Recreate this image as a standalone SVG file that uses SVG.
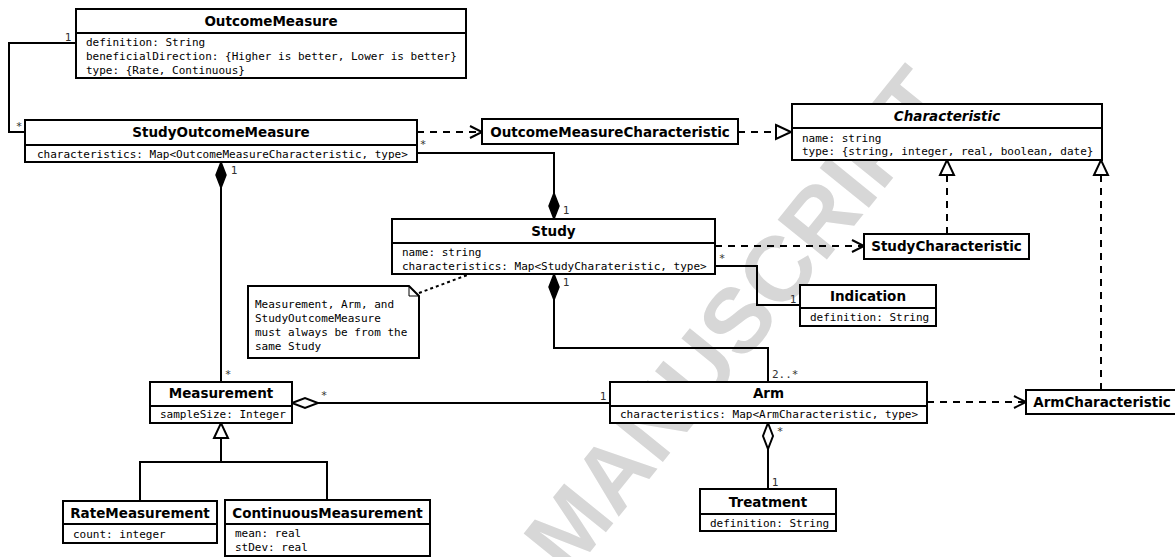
<svg xmlns="http://www.w3.org/2000/svg" width="1175" height="557" viewBox="0 0 1175 557">
<style>
.box{fill:#fff;stroke:#000;stroke-width:2}
.dv{stroke:#000;stroke-width:2}
.ln{fill:none;stroke:#000;stroke-width:2}
.dash{fill:none;stroke:#000;stroke-width:2;stroke-dasharray:7 6}
.dot{fill:none;stroke:#000;stroke-width:2;stroke-dasharray:3 3}
.t{font-family:"DejaVu Sans","Liberation Sans",sans-serif;font-weight:bold;font-size:13.5px;text-anchor:middle;fill:#000}
.a{font-family:"DejaVu Sans Mono","Liberation Mono",monospace;font-size:11px;fill:#000}
.m{font-family:"DejaVu Sans Mono","Liberation Mono",monospace;font-size:11px;fill:#333}
.wm{font-family:"Liberation Sans","DejaVu Sans",sans-serif;font-weight:bold;font-size:92px;fill:#d7d7d7}
</style>
<defs>
<marker id="open" markerUnits="userSpaceOnUse" markerWidth="14" markerHeight="14" refX="12" refY="6" orient="auto" overflow="visible">
<path d="M0,0 L12,6 L0,12" fill="none" stroke="#000" stroke-width="2"/>
</marker>
<marker id="tri" markerUnits="userSpaceOnUse" markerWidth="16" markerHeight="16" refX="15" refY="7" orient="auto" overflow="visible">
<path d="M0,0 L15,7 L0,14 Z" fill="#fff" stroke="#000" stroke-width="2"/>
</marker>
<marker id="dfill" markerUnits="userSpaceOnUse" markerWidth="28" markerHeight="12" refX="0" refY="5" orient="auto" overflow="visible">
<path d="M0,5 L13,0 L26,5 L13,10 Z" fill="#000" stroke="#000" stroke-width="1.5"/>
</marker>
<marker id="dhol" markerUnits="userSpaceOnUse" markerWidth="28" markerHeight="12" refX="0" refY="5" orient="auto" overflow="visible">
<path d="M0,5 L13,0 L26,5 L13,10 Z" fill="#fff" stroke="#000" stroke-width="2"/>
</marker>
</defs>
<rect width="1175" height="557" fill="#fff"/>
<text class="wm" transform="translate(569,578) rotate(-51)">MANUSCRIPT</text>

<g id="connectors">
<path class="ln" d="M76,43 H9 V132 H25"/>
<path class="dash" d="M417,132 H482" marker-end="url(#open)"/>
<path class="dash" d="M738,132 H791" marker-end="url(#tri)"/>
<path class="ln" d="M554,219 V153 H417" marker-start="url(#dfill)"/>
<path class="dash" d="M715,246 H864" marker-end="url(#open)"/>
<path class="ln" d="M715,266 H757 V305 H800"/>
<path class="ln" d="M554,274 V348 H768 V382" marker-start="url(#dfill)"/>
<path class="ln" d="M292,403 H610" marker-start="url(#dhol)"/>
<path class="ln" d="M221,162 V382" marker-start="url(#dfill)"/>
<path class="ln" d="M140,501 V462 H327 V500"/>
<path class="ln" d="M221,462 V423" marker-end="url(#tri)"/>
<path class="ln" d="M768,423 V489" marker-start="url(#dhol)"/>
<path class="dash" d="M927,402 H1026" marker-end="url(#open)"/>
<path class="dash" d="M947,234 V160" marker-end="url(#tri)"/>
<path class="dash" d="M1101,390 V160" marker-end="url(#tri)"/>
<path class="dot" d="M419,293 L470,274"/>
<text class="m" x="68" y="41" text-anchor="middle">1</text>
<text class="m" x="19" y="130" text-anchor="middle">*</text>
<text class="m" x="423" y="148" text-anchor="middle">*</text>
<text class="m" x="566" y="214" text-anchor="middle">1</text>
<text class="m" x="722" y="262" text-anchor="middle">*</text>
<text class="m" x="793" y="303" text-anchor="middle">1</text>
<text class="m" x="566" y="286" text-anchor="middle">1</text>
<text class="m" x="772" y="378">2..*</text>
<text class="m" x="603" y="400" text-anchor="middle">1</text>
<text class="m" x="324" y="399" text-anchor="middle">*</text>
<text class="m" x="234" y="174" text-anchor="middle">1</text>
<text class="m" x="228" y="378" text-anchor="middle">*</text>
<text class="m" x="780" y="435" text-anchor="middle">*</text>
<text class="m" x="775" y="486" text-anchor="middle">1</text>
</g>

<g id="OutcomeMeasure">
<rect class="box" x="76" y="9" width="390" height="69"/>
<line class="dv" x1="76" y1="33" x2="466" y2="33"/>
<text class="t" x="271" y="26">OutcomeMeasure</text>
<text class="a" x="86" y="46">definition: String</text>
<text class="a" x="86" y="60">beneficialDirection: {Higher is better, Lower is better}</text>
<text class="a" x="86" y="74">type: {Rate, Continuous}</text>
</g>

<g id="StudyOutcomeMeasure">
<rect class="box" x="25" y="120" width="392" height="42"/>
<line class="dv" x1="25" y1="145" x2="417" y2="145"/>
<text class="t" x="221" y="137">StudyOutcomeMeasure</text>
<text class="a" x="37" y="158">characteristics: Map&lt;OutcomeMeasureCharacteristic, type&gt;</text>
</g>

<g id="OutcomeMeasureCharacteristic">
<rect class="box" x="482" y="119" width="256" height="25"/>
<text class="t" x="610" y="137">OutcomeMeasureCharacteristic</text>
</g>

<g id="Characteristic">
<rect class="box" x="792" y="104" width="310" height="56"/>
<line class="dv" x1="792" y1="128" x2="1102" y2="128"/>
<text class="t" x="947" y="121" font-style="italic">Characteristic</text>
<text class="a" x="802" y="142">name: string</text>
<text class="a" x="802" y="155">type: {string, integer, real, boolean, date}</text>
</g>

<g id="Study">
<rect class="box" x="392" y="219" width="323" height="55"/>
<line class="dv" x1="392" y1="243" x2="715" y2="243"/>
<text class="t" x="553.5" y="236">Study</text>
<text class="a" x="402" y="256">name: string</text>
<text class="a" x="402" y="270">characteristics: Map&lt;StudyCharateristic, type&gt;</text>
</g>

<g id="StudyCharacteristic">
<rect class="box" x="864" y="234" width="165" height="25"/>
<text class="t" x="946.5" y="251">StudyCharacteristic</text>
</g>

<g id="Indication">
<rect class="box" x="800" y="285" width="136" height="41"/>
<line class="dv" x1="800" y1="308" x2="936" y2="308"/>
<text class="t" x="868" y="301">Indication</text>
<text class="a" x="810" y="321">definition: String</text>
</g>

<g id="Note">
<path d="M248,286 H409 L419,296 V358 H248 Z" fill="#fff" stroke="#000" stroke-width="2"/>
<path d="M409,286 V296 H419" fill="none" stroke="#000" stroke-width="1"/>
<text class="a" x="255" y="308">Measurement, Arm, and</text>
<text class="a" x="255" y="322">StudyOutcomeMeasure</text>
<text class="a" x="255" y="336">must always be from the</text>
<text class="a" x="255" y="350">same Study</text>
</g>

<g id="Measurement">
<rect class="box" x="150" y="382" width="142" height="41"/>
<line class="dv" x1="150" y1="406" x2="292" y2="406"/>
<text class="t" x="221" y="398">Measurement</text>
<text class="a" x="160" y="418">sampleSize: Integer</text>
</g>

<g id="Arm">
<rect class="box" x="610" y="382" width="317" height="41"/>
<line class="dv" x1="610" y1="406" x2="927" y2="406"/>
<text class="t" x="768.5" y="398">Arm</text>
<text class="a" x="620" y="418">characteristics: Map&lt;ArmCharacteristic, type&gt;</text>
</g>

<g id="ArmCharacteristic">
<rect class="box" x="1026" y="390" width="160" height="24"/>
<text class="t" x="1102" y="407">ArmCharacteristic</text>
</g>

<g id="Treatment">
<rect class="box" x="700" y="489" width="136" height="42"/>
<line class="dv" x1="700" y1="514" x2="836" y2="514"/>
<text class="t" x="768" y="507">Treatment</text>
<text class="a" x="710" y="527">definition: String</text>
</g>

<g id="RateMeasurement">
<rect class="box" x="63" y="501" width="154" height="42"/>
<line class="dv" x1="63" y1="524" x2="217" y2="524"/>
<text class="t" x="140" y="518">RateMeasurement</text>
<text class="a" x="73" y="538">count: integer</text>
</g>

<g id="ContinuousMeasurement">
<rect class="box" x="225" y="500" width="205" height="56"/>
<line class="dv" x1="225" y1="524" x2="430" y2="524"/>
<text class="t" x="327.5" y="518">ContinuousMeasurement</text>
<text class="a" x="235" y="537">mean: real</text>
<text class="a" x="235" y="551">stDev: real</text>
</g>
</svg>
